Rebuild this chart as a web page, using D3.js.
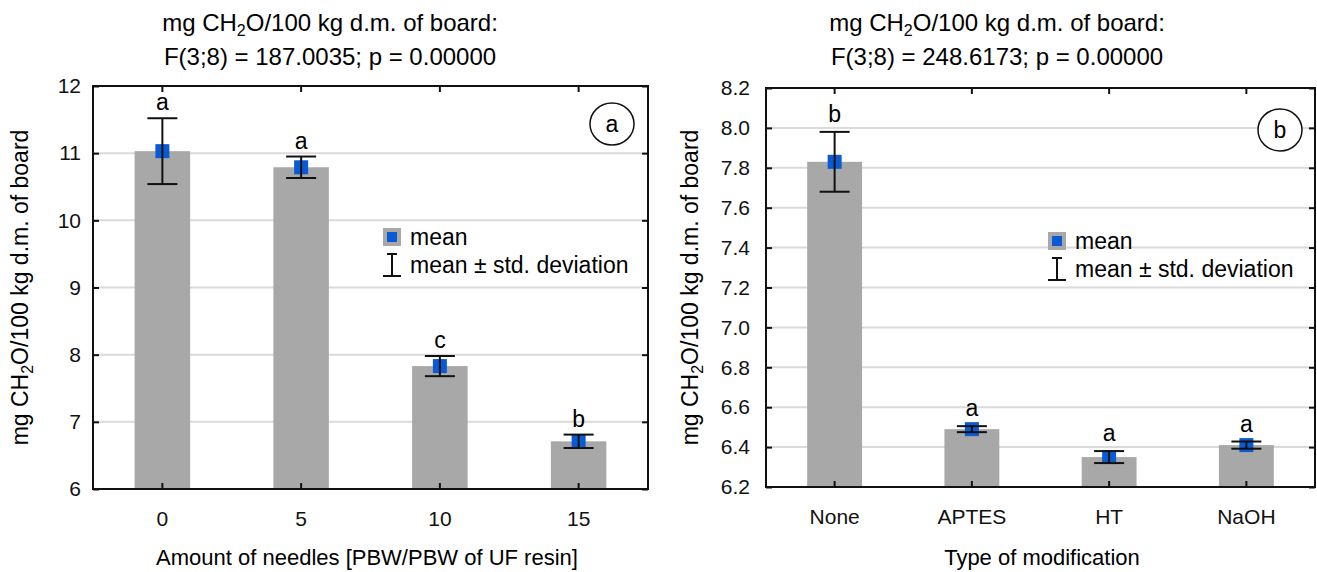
<!DOCTYPE html>
<html>
<head>
<meta charset="utf-8">
<script src="https://cdn.jsdelivr.net/npm/d3@7"></script>
<style>
  body { margin: 0; background: #fff; }
  svg { font-family: "Liberation Sans", Arial, sans-serif; }
</style>
</head>
<body>
<svg id="chart" width="1317" height="572"></svg>
<script>
// panel a: amount of needles
var needleCats = ["0", "5", "10", "15"];
var needleMean = [11.03, 10.79, 7.83, 6.71];
var needleSD = [0.49, 0.16, 0.15, 0.10];
var needleLetters = ["a", "a", "c", "b"];
var needleTicks = [6, 7, 8, 9, 10, 11, 12];

// panel b: type of modification
var modCats = ["None", "APTES", "HT", "NaOH"];
var modMean = [7.83, 6.49, 6.35, 6.41];
var modSD = [0.15, 0.015, 0.03, 0.018];
var modLetters = ["b", "a", "a", "a"];
var modTicks = [6.2, 6.4, 6.6, 6.8, 7.0, 7.2, 7.4, 7.6, 7.8, 8.0, 8.2];

var svg = d3.select("#chart");

function drawPanel(opt) {
    var g = svg.append("g");
    var x = d3.scaleBand().domain(opt.cats).range([opt.x0, opt.x1]).padding(0);
    var y = d3.scaleLinear().domain(opt.domain).range([opt.y1, opt.y0]);
    var data = opt.cats.map((c, i) => ({cat: c, mean: opt.mean[i], sd: opt.sd[i], letter: opt.letters[i]}));
    var cx = d => x(d.cat) + x.bandwidth() / 2;

    // grid
    g.selectAll(".grid").data(opt.ticks.slice(1, -1)).enter().append("line")
        .attr("x1", opt.x0).attr("x2", opt.x1)
        .attr("y1", d => y(d)).attr("y2", d => y(d))
        .attr("stroke", "#dadada").attr("stroke-width", 2);

    // bars
    var bw = x.bandwidth() * 0.4;
    g.selectAll(".bar").data(data).enter().append("rect")
        .attr("x", d => cx(d) - bw / 2)
        .attr("y", d => y(d.mean))
        .attr("width", bw)
        .attr("height", d => y(opt.domain[0]) - y(d.mean))
        .attr("fill", "#a8a8a8");

    // mean markers
    g.selectAll(".mk").data(data).enter().append("rect")
        .attr("x", d => cx(d) - 7).attr("y", d => y(d.mean) - 7)
        .attr("width", 14).attr("height", 14)
        .attr("fill", "#0a5ad4");

    // error bars
    var eb = g.selectAll(".eb").data(data).enter().append("g").attr("stroke", "#111").attr("stroke-width", 2);
    eb.append("line").attr("x1", cx).attr("x2", cx)
        .attr("y1", d => y(d.mean + d.sd)).attr("y2", d => y(d.mean - d.sd));
    eb.append("line").attr("x1", d => cx(d) - 15).attr("x2", d => cx(d) + 15)
        .attr("y1", d => y(d.mean + d.sd)).attr("y2", d => y(d.mean + d.sd));
    eb.append("line").attr("x1", d => cx(d) - 15).attr("x2", d => cx(d) + 15)
        .attr("y1", d => y(d.mean - d.sd)).attr("y2", d => y(d.mean - d.sd));

    // letters
    g.selectAll(".lt").data(data).enter().append("text")
        .attr("x", cx).attr("y", d => y(d.mean + d.sd) - opt.gap)
        .attr("text-anchor", "middle").attr("font-size", 23)
        .text(d => d.letter);

    // axes
    var h = opt.y1 - opt.y0;
    g.append("g").attr("transform", "translate(0," + opt.y1 + ")")
        .call(d3.axisBottom(x).tickSizeInner(-6).tickSizeOuter(0).tickPadding(22))
        .call(a => a.select(".domain").remove());
    g.append("g").attr("transform", "translate(0," + opt.y0 + ")")
        .call(d3.axisTop(x).tickSizeInner(-6).tickSizeOuter(0).tickFormat(""))
        .call(a => a.select(".domain").remove());
    g.append("g").attr("transform", "translate(" + opt.x0 + ",0)")
        .call(d3.axisLeft(y).tickValues(opt.ticks).tickFormat(opt.fmt).tickSizeInner(-6).tickSizeOuter(0).tickPadding(opt.pad))
        .call(a => a.select(".domain").remove());
    g.append("g").attr("transform", "translate(" + opt.x1 + ",0)")
        .call(d3.axisRight(y).tickValues(opt.ticks).tickFormat("").tickSizeInner(-6).tickSizeOuter(0))
        .call(a => a.select(".domain").remove());
    g.selectAll(".tick line").attr("stroke", "#111").attr("stroke-width", 2);
    g.selectAll(".tick text").attr("font-size", 21).attr("fill", "#111")
        .attr("font-family", "Liberation Sans, Arial, sans-serif");

    g.append("rect").attr("x", opt.x0).attr("y", opt.y0)
        .attr("width", opt.x1 - opt.x0).attr("height", h)
        .attr("fill", "none").attr("stroke", "#111").attr("stroke-width", 2);

    // titles
    var tc = opt.titleX;
    var t1 = g.append("text").attr("x", tc).attr("y", 31).attr("text-anchor", "middle").attr("font-size", 24);
    t1.append("tspan").text("mg CH");
    t1.append("tspan").attr("font-size", 16).attr("dy", 5).text("2");
    t1.append("tspan").attr("dy", -5).text("O/100 kg d.m. of board:");
    g.append("text").attr("x", tc).attr("y", 65).attr("text-anchor", "middle").attr("font-size", 24)
        .text(opt.stat);

    var yl = g.append("text").attr("transform", "translate(" + (opt.x0 - opt.ylOff) + "," + ((opt.y0 + opt.y1) / 2) + ") rotate(-90)")
        .attr("text-anchor", "middle").attr("font-size", 23);
    yl.append("tspan").text("mg CH");
    yl.append("tspan").attr("font-size", 16).attr("dy", 5).text("2");
    yl.append("tspan").attr("dy", -5).text("O/100 kg d.m. of board");

    g.append("text").attr("x", opt.xtX).attr("y", 565).attr("text-anchor", "middle").attr("font-size", 22)
        .text(opt.xtitle);

    // panel tag
    g.append("ellipse").attr("cx", opt.tag[0]).attr("cy", opt.tag[1]).attr("rx", 22).attr("ry", 21)
        .attr("fill", "#fff").attr("stroke", "#111").attr("stroke-width", 1.5);
    g.append("text").attr("x", opt.tag[0]).attr("y", opt.tag[1] + 8).attr("text-anchor", "middle")
        .attr("font-size", 23).text(opt.tagText);

    // legend
    var lx = opt.legend[0], ly = opt.legend[1];
    g.append("rect").attr("x", lx).attr("y", ly - 9).attr("width", 18).attr("height", 18).attr("fill", "#a8a8a8");
    g.append("rect").attr("x", lx + 4).attr("y", ly - 5).attr("width", 10).attr("height", 10).attr("fill", "#0a5ad4");
    g.append("text").attr("x", lx + 27).attr("y", ly + 8).attr("font-size", 23).text("mean");
    var ey = ly + 28;
    var lg = g.append("g").attr("stroke", "#111").attr("stroke-width", 2);
    lg.append("line").attr("x1", lx + 9).attr("x2", lx + 9).attr("y1", ey - 11).attr("y2", ey + 11);
    lg.append("line").attr("x1", lx + 4).attr("x2", lx + 14).attr("y1", ey - 11).attr("y2", ey - 11);
    lg.append("line").attr("x1", lx).attr("x2", lx + 18).attr("y1", ey + 11).attr("y2", ey + 11);
    g.append("text").attr("x", lx + 27).attr("y", ey + 8).attr("font-size", 23).text("mean \u00b1 std. deviation");
}

drawPanel({
    cats: needleCats, mean: needleMean, sd: needleSD, letters: needleLetters,
    ticks: needleTicks, domain: [6, 12], fmt: d3.format("d"),
    x0: 93, x1: 648, y0: 86, y1: 489, pad: 12, ylOff: 65, gap: 8,
    titleX: 330, xtX: 367,
    stat: "F(3;8) = 187.0035; p = 0.00000",
    xtitle: "Amount of needles [PBW/PBW of UF resin]",
    tag: [612, 124], tagText: "a",
    legend: [383, 237]
});

drawPanel({
    cats: modCats, mean: modMean, sd: modSD, letters: modLetters,
    ticks: modTicks, domain: [6.2, 8.2], fmt: d3.format(".1f"),
    x0: 766, x1: 1315, y0: 88, y1: 487, pad: 16, ylOff: 68, gap: 10,
    titleX: 997, xtX: 1042,
    stat: "F(3;8) = 248.6173; p = 0.00000",
    xtitle: "Type of modification",
    tag: [1280, 130], tagText: "b",
    legend: [1048, 241]
});
</script>
</body>
</html>
